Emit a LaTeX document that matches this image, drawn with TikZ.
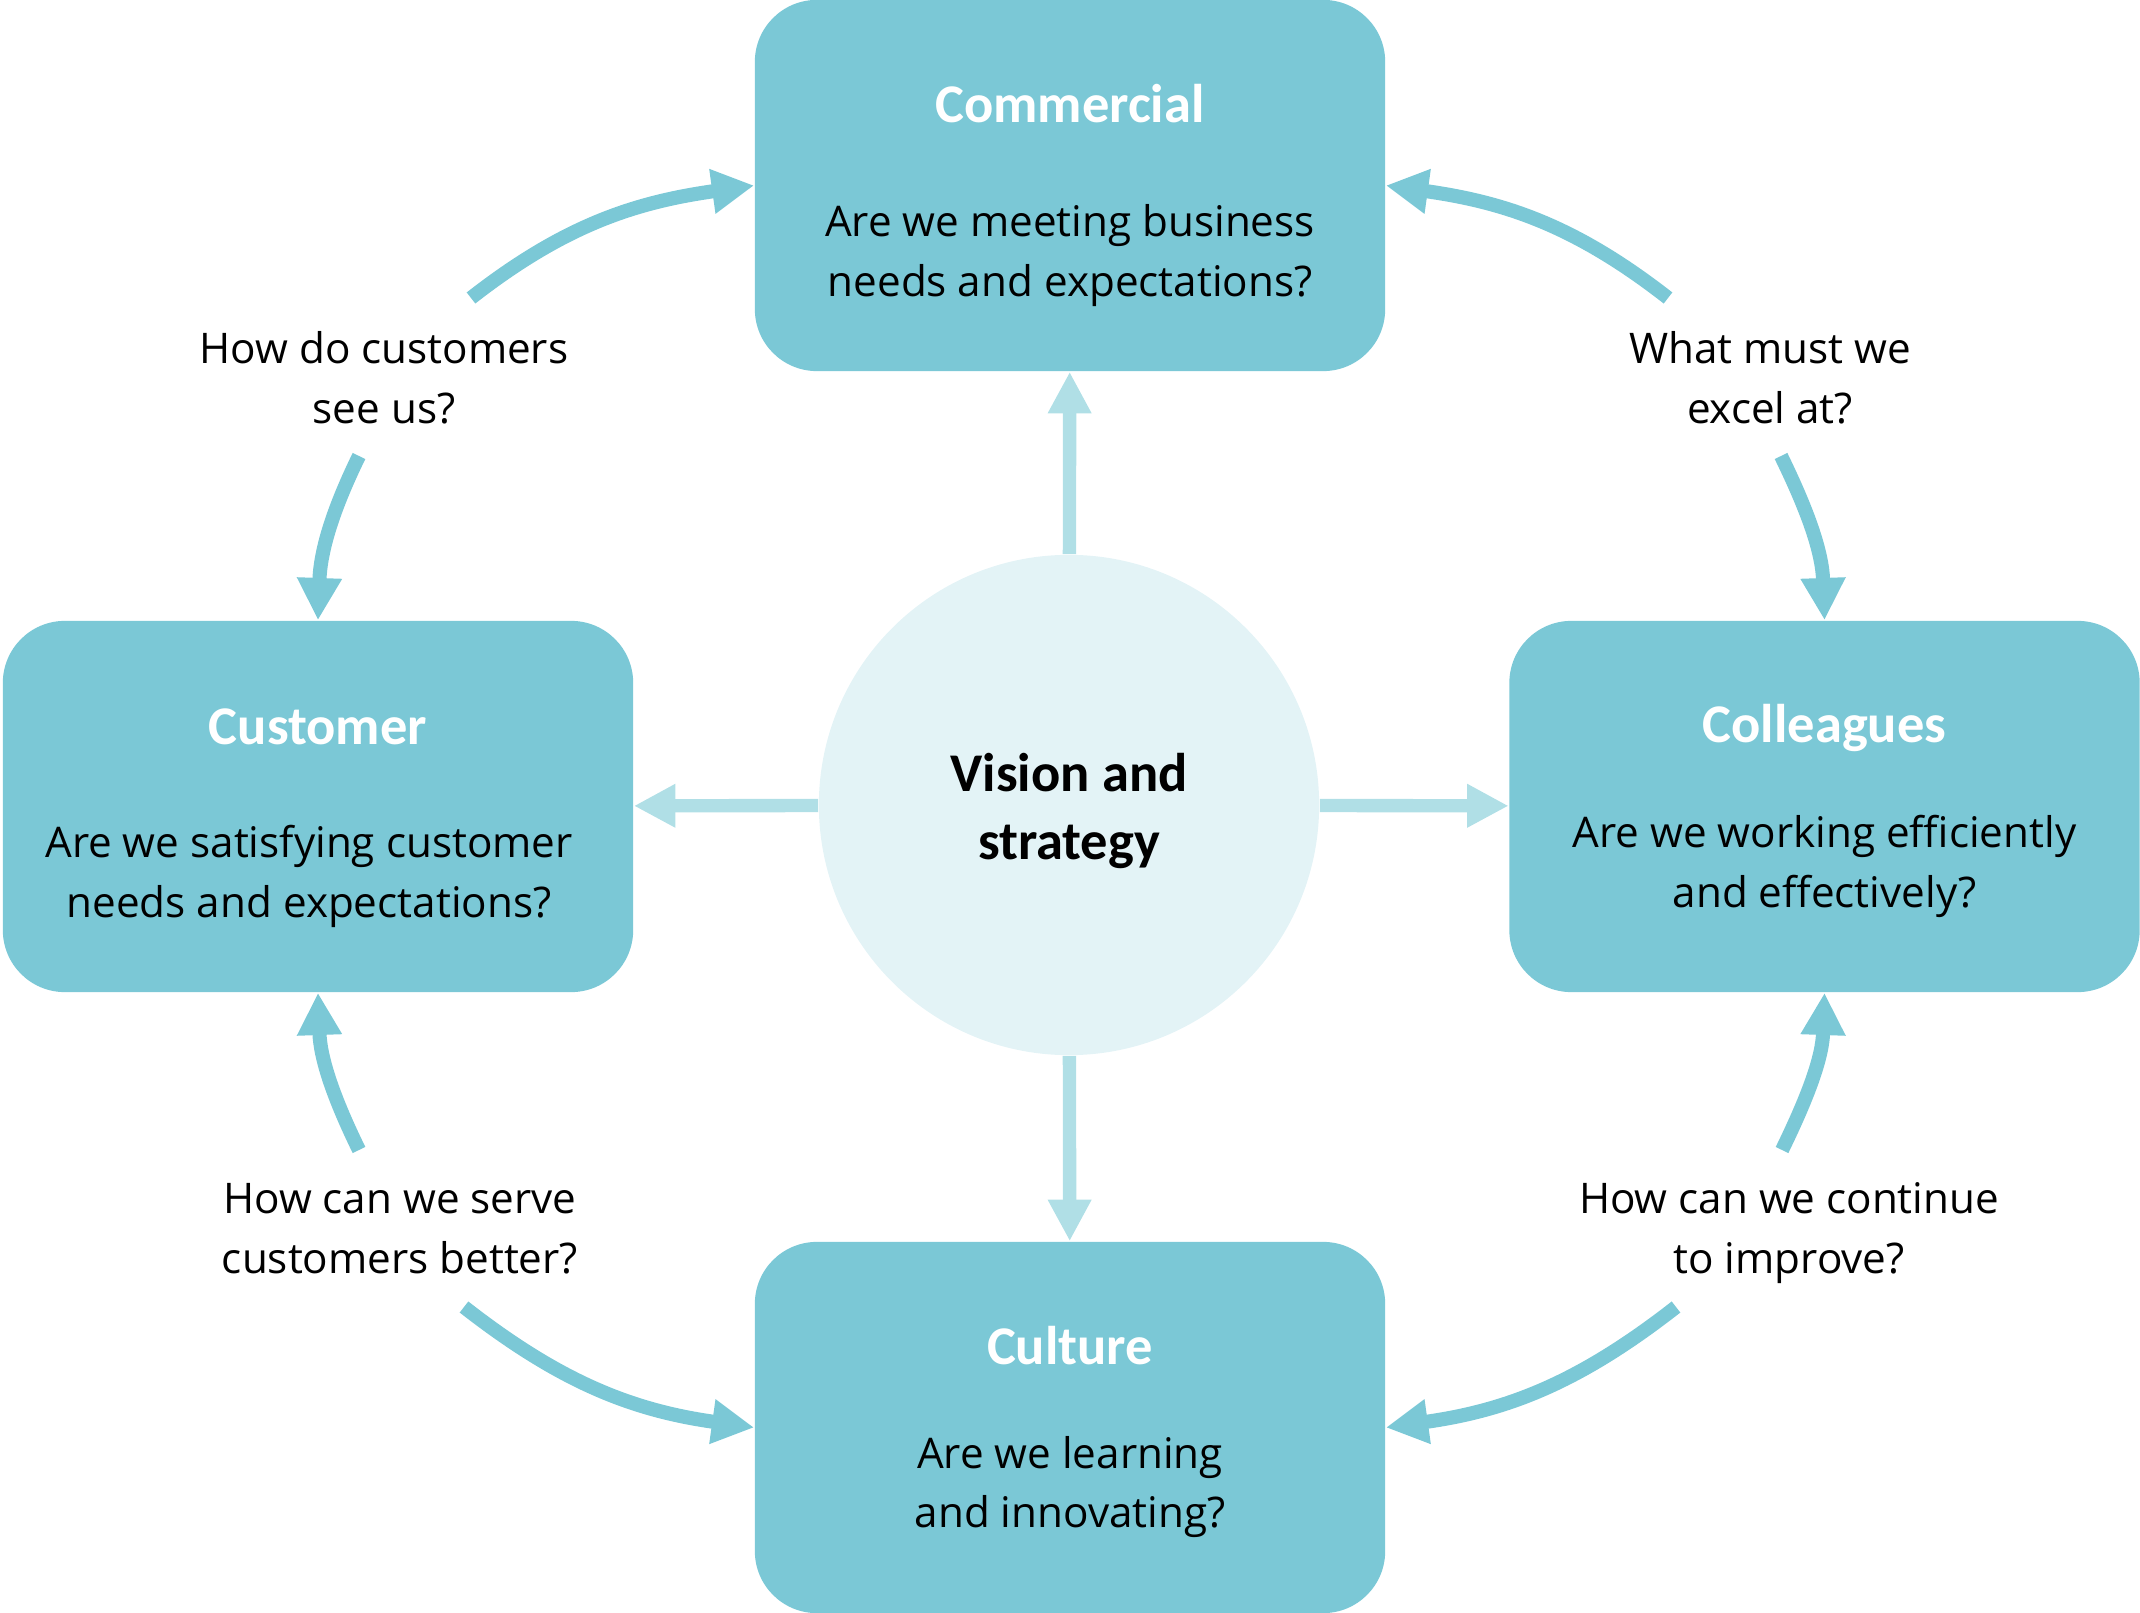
\documentclass[tikz,border=0pt]{standalone}
\usepackage{fontspec}
\setmainfont{Open Sans}
\newfontfamily\headfont{Carlito}
\usetikzlibrary{arrows.meta,positioning}
\definecolor{boxteal}{RGB}{123,200,214}
\definecolor{hubfill}{RGB}{227,243,246}
\definecolor{spokeblue}{RGB}{176,223,230}
\tikzset{
    x=0.01cm, y=0.01cm,
    area/.style ={rectangle, fill=boxteal, rounded corners=0.62cm, minimum width=6.3cm, minimum height=3.71cm},
    hub/.style ={circle, fill=hubfill, minimum size=5cm, inner sep=0pt},
    head/.style ={font=\headfont\bfseries\fontsize{15.5}{19}\selectfont, text=white},
    ask/.style ={font=\fontsize{12}{17}\selectfont, align=center, inner sep=0pt},
    hubtext/.style ={font=\headfont\bfseries\fontsize{15.5}{19.4}\selectfont, align=center},
    spoke/.style ={draw=spokeblue, line width=3.8pt, -{Triangle[width=11.6pt,length=11.8pt]}},
    cycle/.style ={draw=boxteal, line width=4pt, -{Triangle[width=12pt,length=12pt]}}
}
\begin{document}
\begin{tikzpicture}
    \useasboundingbox (0,0) rectangle (2140,-1613);
    % four perspectives and the hub
    \node[area] (commercial) at (1070,-185.5) {};
    \node[area] (customer) at (318,-806.5) {};
    \node[area] (colleagues) at (1824.5,-806.5) {};
    \node[area] (culture) at (1070,-1427.5) {};
    \node[hub] (vision) at (1069,-805) {};
    % texts inside the boxes
    \node[head] (commercialtitle) at ([yshift=0.815cm]commercial.center) {Commercial};
    \node[ask] (commercialask) at ([yshift=-0.70cm]commercial.center) {Are we meeting business\\needs and expectations?};
    \node[head] (customertitle) at ([yshift=0.80cm]customer.center) {Customer};
    \node[ask] (customerask) at ([xshift=-0.09cm,yshift=-0.70cm]customer.center) {Are we satisfying customer\\needs and expectations?};
    \node[head] (colleaguestitle) at ([yshift=0.78cm]colleagues.center) {Colleagues};
    \node[ask] (colleaguesask) at ([yshift=-0.595cm]colleagues.center) {Are we working efficiently\\and effectively?};
    \node[head] (culturetitle) at ([yshift=0.815cm]culture.center) {Culture};
    \node[ask] (cultureask) at ([yshift=-0.595cm]culture.center) {Are we learning\\and innovating?};
    \node[hubtext] (visiontext) at ([yshift=-0.06cm]vision.center) {Vision and\\strategy};
    % questions between the boxes
    \node[ask] (seeus) at (384,-378) {How do customers\\see us?};
    \node[ask] (excel) at (1770,-378) {What must we\\excel at?};
    \node[ask] (serve) at (400,-1229) {How can we serve\\customers better?};
    \node[ask] (improve) at (1789,-1233) {How can we continue\\to improve?};
    % free ends of the cycle arrows
    \coordinate (a1) at (471,-298);
    \coordinate (a2) at (359,-456);
    \coordinate (a3) at (1668,-298);
    \coordinate (a4) at (1781,-456);
    \coordinate (a5) at (359,-1150);
    \coordinate (a6) at (464,-1307);
    \coordinate (a7) at (1782,-1150);
    \coordinate (a8) at (1676,-1307);
    % spokes
    \path[spoke] (vision) -- (commercial);
    \path[spoke] (vision) -- (customer);
    \path[spoke] (vision) -- (colleagues);
    \path[spoke] (vision) -- (culture);
    % cycle arrows
    \path[cycle] (a1) to[out=38, in=188] (commercial.west);
    \path[cycle] (a2) to[out=-116, in=88] (customer.north);
    \path[cycle] (a3) to[out=142, in=-8] (commercial.east);
    \path[cycle] (a4) to[out=-64, in=92] (colleagues.north);
    \path[cycle] (a5) to[out=116, in=-88] (customer.south);
    \path[cycle] (a6) to[out=-38, in=172] (culture.west);
    \path[cycle] (a7) to[out=64, in=-92] (colleagues.south);
    \path[cycle] (a8) to[out=-142, in=8] (culture.east);
\end{tikzpicture}
\end{document}
